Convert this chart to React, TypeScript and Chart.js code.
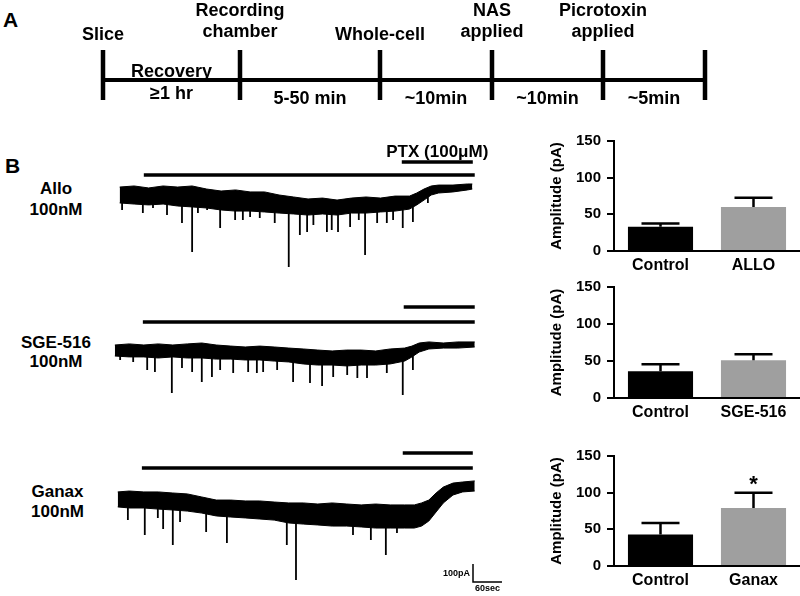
import React, { useEffect, useRef } from "react";
import { Chart, registerables } from "chart.js";

Chart.register(...registerables);

const FONT = "'Liberation Sans', Arial, Helvetica, sans-serif";
const PA_PER_PX = 5.54; // from scale bar: 100 pA
const SEC_PER_PX = 2.07; // from scale bar: 60 sec

// ---------------- Panel A: schematic timeline ----------------
const timelineEventLabels: string[][] = [
  ["Slice"],
  ["Recording", "chamber"],
  ["Whole-cell"],
  ["NAS", "applied"],
  ["Picrotoxin", "applied"],
  [],
];
const timelineEventPositions = [0, 1.37, 2.77, 3.89, 5.0, 6.02];
const timelineSegmentTop = ["Recovery", "", "", "", ""];
const timelineSegmentBottom = ["≥1 hr", "5-50 min", "~10min", "~10min", "~5min"];

// ---------------- Panel B: traces (time in s, current in pA) ----------------
const alloTime = [0, 30, 60, 90, 120, 150, 180, 210, 240, 270, 300, 330, 360, 390, 420, 450, 480, 510, 540, 570, 600, 615, 630, 645, 660, 690, 720, 730];
const alloUpper = [44, 50, 39, 50, 44, 50, 33, 22, 28, 17, 17, 0, -11, -22, -17, -28, -17, -11, -17, -6, -6, 11, 33, 50, 55, 55, 61, 61];
const alloLower = [-44, -50, -55, -50, -61, -66, -72, -83, -89, -89, -94, -100, -105, -111, -105, -111, -100, -100, -94, -89, -78, -55, -28, 0, 11, 17, 28, 33];
const alloSpikeTime = [5, 48, 69, 98, 129, 150, 162, 181, 208, 239, 255, 270, 290, 321, 350, 373, 388, 401, 429, 439, 452, 477, 495, 508, 533, 553, 566, 586, 607, 638];
const alloSpikePeak = [-83, -100, -72, -111, -155, -316, -100, -83, -183, -139, -139, -122, -127, -155, -399, -222, -205, -166, -205, -194, -205, -177, -139, -332, -155, -155, -139, -183, -150, -44];
const alloDrug = [50, 735];
const alloPtx = [584, 731];

const sgeTime = [-10, 20, 50, 80, 110, 140, 170, 200, 230, 260, 290, 320, 350, 380, 410, 440, 470, 500, 530, 560, 590, 605, 620, 640, 670, 700, 735];
const sgeUpper = [0, 6, 0, 6, 0, 6, 11, 0, -6, -11, -6, -11, -17, -22, -28, -33, -28, -28, -33, -22, -17, -6, 11, 17, 11, 17, 17];
const sgeLower = [-61, -66, -66, -72, -66, -72, -72, -78, -78, -83, -83, -89, -94, -105, -111, -111, -116, -111, -111, -105, -89, -66, -39, -22, -17, -17, -11];
const sgeSpikeTime = [1, 28, 57, 73, 108, 129, 150, 170, 191, 208, 235, 266, 284, 297, 326, 359, 394, 419, 442, 471, 492, 512, 553, 586, 607];
const sgeSpikePeak = [-83, -94, -139, -150, -266, -127, -150, -205, -177, -139, -155, -150, -155, -150, -139, -205, -211, -227, -177, -166, -183, -183, -155, -277, -139];
const sgeDrug = [48, 735];
const sgePtx = [588, 735];

const ganaxTime = [-4, 20, 50, 80, 110, 140, 170, 200, 230, 260, 290, 320, 350, 380, 410, 440, 470, 500, 530, 560, 590, 610, 625, 640, 655, 670, 690, 710, 735];
const ganaxUpper = [17, 22, 17, 17, 11, 6, -11, -28, -28, -33, -33, -39, -44, -44, -50, -44, -50, -55, -50, -55, -55, -55, -44, -28, 11, 44, 66, 72, 78];
const ganaxLower = [-66, -72, -72, -78, -83, -89, -100, -116, -122, -127, -133, -139, -155, -161, -166, -172, -172, -177, -183, -183, -183, -183, -172, -144, -94, -44, 0, 17, 22];
const ganaxSpikeTime = [17, 52, 79, 90, 110, 125, 179, 222, 346, 365, 483, 520, 551, 574];
const ganaxSpikePeak = [-139, -222, -127, -188, -277, -150, -205, -266, -277, -471, -222, -249, -332, -211];
const ganaxDrug = [46, 731];
const ganaxPtx = [586, 731];

const scaleBarPa = 100;
const scaleBarSec = 60;

// ---------------- Panel B: bar charts ----------------
const alloLabels = ["Control", "ALLO"];
const alloMeans = [33, 60];
const alloSem = [4.5, 12.5];

const sgeLabels = ["Control", "SGE-516"];
const sgeMeans = [36, 51];
const sgeSem = [9.5, 8];

const ganaxLabels = ["Control", "Ganax"];
const ganaxMeans = [43, 79];
const ganaxSem = [15.5, 21];
const ganaxMarks = ["", "*"];

const yTicks = [0, 50, 100, 150];

Chart.defaults.font.family = FONT;
Chart.defaults.font.weight = "bold" as any;
Chart.defaults.color = "#000";

function Label({ x, y, size, text, align = "center" }: { x: number; y: number; size: number; text: string; align?: string }) {
  const style: React.CSSProperties = {
    position: "absolute",
    top: y - size * 0.488,
    fontSize: size,
    lineHeight: `${size}px`,
    fontWeight: "bold",
    fontFamily: FONT,
    whiteSpace: "nowrap",
    color: "#000",
  };
  if (align === "center") {
    style.left = x - 100;
    style.width = 200;
    style.textAlign = "center";
  } else {
    style.left = x;
  }
  return <div style={style}>{text}</div>;
}

function Timeline() {
  const ref = useRef<HTMLCanvasElement>(null);
  useEffect(() => {
    const end = timelineEventPositions[timelineEventPositions.length - 1];
    const tickPts: any[] = [];
    timelineEventPositions.forEach((p) => {
      tickPts.push({ x: p, y: -20 }, { x: p, y: 30 }, { x: p, y: null });
    });
    const textPlugin = {
      id: "tlText",
      afterDraw(chart: any) {
        const { ctx } = chart;
        const xs = chart.scales.x;
        const fs = 18;
        ctx.save();
        ctx.font = `bold ${fs}px ${FONT}`;
        ctx.fillStyle = "#000";
        ctx.textAlign = "center";
        ctx.textBaseline = "alphabetic";
        const cap = fs * 0.358;
        timelineEventLabels.forEach((lines, i) => {
          const px = xs.getPixelForValue(timelineEventPositions[i]);
          lines.forEach((s, j) => {
            const cy = lines.length === 1 ? 34 : 9.5 + j * 21.5;
            ctx.fillText(s, px, cy + cap);
          });
        });
        timelineSegmentBottom.forEach((s, i) => {
          const px = (xs.getPixelForValue(timelineEventPositions[i]) + xs.getPixelForValue(timelineEventPositions[i + 1])) / 2;
          const topText = timelineSegmentTop[i];
          if (topText) ctx.fillText(topText, px, 71 + cap);
          ctx.fillText(s, px, (topText ? 93 : 98) + cap);
        });
        ctx.restore();
      },
    };
    const chart = new Chart(ref.current!, {
      type: "line",
      data: {
        datasets: [
          { data: [{ x: 0, y: 0 }, { x: end, y: 0 }], borderColor: "#000", borderWidth: 4, pointRadius: 0, clip: false } as any,
          { data: tickPts, borderColor: "#000", borderWidth: 4.5, pointRadius: 0, spanGaps: false, clip: false } as any,
        ],
      },
      options: {
        animation: false,
        responsive: true,
        maintainAspectRatio: false,
        events: [],
        layout: { padding: { left: 103, right: 95, top: 0, bottom: 0 } },
        plugins: { legend: { display: false }, tooltip: { enabled: false } },
        scales: {
          x: { type: "linear", display: false, min: 0, max: end },
          y: { display: false, min: -30, max: 80 },
        },
      },
      plugins: [textPlugin],
    });
    return () => chart.destroy();
  }, []);
  return (
    <div style={{ position: "absolute", left: 0, top: 0, width: 800, height: 110 }}>
      <canvas ref={ref} />
    </div>
  );
}

type TraceProps = {
  top: number;
  height: number;
  time: number[];
  upper: number[];
  lower: number[];
  spikeTime: number[];
  spikePeak: number[];
  drug: number[];
  ptx: number[];
  drugOffset: number;
  ptxOffset: number;
  ptxLabel?: string;
  scaleCorner?: [number, number];
};

function Trace(props: TraceProps) {
  const ref = useRef<HTMLCanvasElement>(null);
  useEffect(() => {
    const { height, time, upper, lower, spikeTime, spikePeak, drug, ptx, drugOffset, ptxOffset, ptxLabel, scaleCorner } = props;
    const zeroOffset = 55;
    const yMax = zeroOffset * PA_PER_PX;
    const yMin = yMax - height * PA_PER_PX;
    const xMin = -20;
    const xMax = xMin + 400 * SEC_PER_PX;
    const levelAt = (offsetPx: number) => yMax - offsetPx * PA_PER_PX;

    const upperPts = time.map((t, i) => ({ x: t, y: upper[i] }));
    const lowerPts = time.map((t, i) => ({ x: t, y: lower[i] }));
    const spikePts: any[] = [];
    spikeTime.forEach((t, i) => {
      let k = 0;
      time.forEach((tt, j) => {
        if (Math.abs(tt - t) < Math.abs(time[k] - t)) k = j;
      });
      const onset = (upper[k] + lower[k]) / 2;
      spikePts.push({ x: t, y: onset }, { x: t, y: spikePeak[i] }, { x: t, y: null });
    });
    const drugLevel = levelAt(drugOffset);
    const ptxLevel = levelAt(ptxOffset);

    const datasets: any[] = [
      { data: upperPts, borderColor: "#000", borderWidth: 1, pointRadius: 0, fill: "+1", backgroundColor: "#000" },
      { data: lowerPts, borderColor: "#000", borderWidth: 1, pointRadius: 0, fill: false },
      { data: spikePts, borderColor: "#000", borderWidth: 1.8, pointRadius: 0, spanGaps: false, fill: false },
      { data: [{ x: drug[0], y: drugLevel }, { x: drug[1], y: drugLevel }], borderColor: "#000", borderWidth: 3.5, pointRadius: 0, fill: false },
      { data: [{ x: ptx[0], y: ptxLevel }, { x: ptx[1], y: ptxLevel }], borderColor: "#000", borderWidth: 3.5, pointRadius: 0, fill: false },
    ];
    let sb: { x: number; y: number } | null = null;
    if (scaleCorner) {
      sb = { x: xMin + scaleCorner[0] * SEC_PER_PX, y: levelAt(scaleCorner[1]) };
      datasets.push({
        data: [
          { x: sb.x, y: sb.y + scaleBarPa },
          { x: sb.x, y: sb.y },
          { x: sb.x + scaleBarSec, y: sb.y },
        ],
        borderColor: "#000",
        borderWidth: 1.5,
        pointRadius: 0,
        fill: false,
      });
    }

    const textPlugin = {
      id: "traceText",
      afterDraw(chart: any) {
        const { ctx } = chart;
        const xs = chart.scales.x;
        const ys = chart.scales.y;
        ctx.save();
        ctx.fillStyle = "#000";
        ctx.textBaseline = "alphabetic";
        if (ptxLabel) {
          ctx.font = `bold 17px ${FONT}`;
          ctx.textAlign = "center";
          const cx = (xs.getPixelForValue(ptx[0]) + xs.getPixelForValue(ptx[1])) / 2;
          const cy = ys.getPixelForValue(ptxLevel) - 11;
          ctx.fillText(ptxLabel, cx, cy + 17 * 0.358);
        }
        if (sb) {
          ctx.font = `bold 9px ${FONT}`;
          const px = xs.getPixelForValue(sb.x);
          const py = ys.getPixelForValue(sb.y);
          const pyTop = ys.getPixelForValue(sb.y + scaleBarPa);
          const px2 = xs.getPixelForValue(sb.x + scaleBarSec);
          ctx.textAlign = "right";
          ctx.fillText(`${scaleBarPa}pA`, px - 3, (py + pyTop) / 2 + 9 * 0.358);
          ctx.textAlign = "center";
          ctx.fillText(`${scaleBarSec}sec`, (px + px2) / 2, py + 6 + 9 * 0.358);
        }
        ctx.restore();
      },
    };

    const chart = new Chart(ref.current!, {
      type: "line",
      data: { datasets },
      options: {
        animation: false,
        responsive: true,
        maintainAspectRatio: false,
        events: [],
        layout: { padding: 0 },
        plugins: { legend: { display: false }, tooltip: { enabled: false } },
        scales: {
          x: { type: "linear", display: false, min: xMin, max: xMax },
          y: { display: false, min: yMin, max: yMax },
        },
      },
      plugins: [textPlugin],
    });
    return () => chart.destroy();
  }, []);
  return (
    <div style={{ position: "absolute", left: 110, top: props.top, width: 400, height: props.height }}>
      <canvas ref={ref} />
    </div>
  );
}

function AmpChart({ top, height, labels, means, sems, marks }: { top: number; height: number; labels: string[]; means: number[]; sems: number[]; marks?: string[] }) {
  const ref = useRef<HTMLCanvasElement>(null);
  useEffect(() => {
    const errPlugin = {
      id: "errBars",
      afterDatasetsDraw(chart: any) {
        const { ctx } = chart;
        const ys = chart.scales.y;
        const meta = chart.getDatasetMeta(0);
        ctx.save();
        ctx.strokeStyle = "#000";
        ctx.lineWidth = 2.5;
        meta.data.forEach((bar: any, i: number) => {
          const yTop = ys.getPixelForValue(means[i] + sems[i]);
          ctx.beginPath();
          ctx.moveTo(bar.x, bar.y);
          ctx.lineTo(bar.x, yTop);
          ctx.moveTo(bar.x - 19, yTop);
          ctx.lineTo(bar.x + 19, yTop);
          ctx.stroke();
          if (marks && marks[i]) {
            ctx.font = `bold 22px ${FONT}`;
            ctx.textAlign = "center";
            ctx.textBaseline = "alphabetic";
            ctx.fillStyle = "#000";
            ctx.fillText(marks[i], bar.x, yTop - 1.5);
          }
        });
        ctx.restore();
      },
    };
    const chart = new Chart(ref.current!, {
      type: "bar",
      data: {
        labels,
        datasets: [
          {
            data: means,
            backgroundColor: ["#000000", "#9f9f9f"],
            borderWidth: 0,
            barPercentage: 0.7,
            categoryPercentage: 1,
          },
        ],
      },
      options: {
        animation: false,
        responsive: true,
        maintainAspectRatio: false,
        events: [],
        layout: { padding: { top: 12, left: 0, right: 0, bottom: 0 } },
        plugins: { legend: { display: false }, tooltip: { enabled: false } },
        scales: {
          y: {
            min: 0,
            max: 150,
            afterBuildTicks: (s: any) => {
              s.ticks = yTicks.map((v) => ({ value: v }));
            },
            ticks: { font: { size: 15, weight: "bold" as any }, color: "#000", padding: 6 },
            grid: { drawOnChartArea: false, drawTicks: true, tickLength: 7, color: "#000", lineWidth: 2 },
            border: { display: true, color: "#000", width: 2 },
            title: { display: true, text: "Amplitude (pA)", font: { size: 15, weight: "bold" as any }, color: "#000", padding: 4 },
            afterFit: (s: any) => {
              s.width = 70;
            },
          },
          x: {
            grid: { display: false },
            border: { display: true, color: "#000", width: 2 },
            ticks: { font: { size: 16, weight: "bold" as any }, color: "#000", padding: -3 },
            afterFit: (s: any) => {
              s.height = 26;
            },
          },
        },
      },
      plugins: [errPlugin],
    });
    return () => chart.destroy();
  }, []);
  return (
    <div style={{ position: "absolute", left: 544, top, width: 256, height }}>
      <canvas ref={ref} />
    </div>
  );
}

export default function App() {
  return (
    <div
      style={{
        position: "absolute",
        left: 0,
        top: 0,
        width: 800,
        height: 596,
        background: "#fff",
        overflow: "hidden",
        fontFamily: FONT,
      }}
    >
      <Label x={3} y={19.5} size={21} text="A" align="left" />
      <Label x={5} y={165.5} size={21} text="B" align="left" />
      <Timeline />

      <Label x={56} y={188.5} size={17} text="Allo" />
      <Label x={56} y={209.5} size={17} text="100nM" />
      <Label x={56} y={342} size={17} text="SGE-516" />
      <Label x={56} y={361} size={17} text="100nM" />
      <Label x={57.5} y={491} size={17} text="Ganax" />
      <Label x={57.5} y={511.5} size={17} text="100nM" />

      <Trace
        top={140}
        height={130}
        time={alloTime}
        upper={alloUpper}
        lower={alloLower}
        spikeTime={alloSpikeTime}
        spikePeak={alloSpikePeak}
        drug={alloDrug}
        ptx={alloPtx}
        drugOffset={35}
        ptxOffset={22}
        ptxLabel="PTX (100μM)"
      />
      <Trace
        top={290}
        height={130}
        time={sgeTime}
        upper={sgeUpper}
        lower={sgeLower}
        spikeTime={sgeSpikeTime}
        spikePeak={sgeSpikePeak}
        drug={sgeDrug}
        ptx={sgePtx}
        drugOffset={32}
        ptxOffset={17}
      />
      <Trace
        top={440}
        height={156}
        time={ganaxTime}
        upper={ganaxUpper}
        lower={ganaxLower}
        spikeTime={ganaxSpikeTime}
        spikePeak={ganaxSpikePeak}
        drug={ganaxDrug}
        ptx={ganaxPtx}
        drugOffset={28}
        ptxOffset={13}
        scaleCorner={[363, 142]}
      />

      <AmpChart top={126} height={151} labels={alloLabels} means={alloMeans} sems={alloSem} />
      <AmpChart top={272} height={152} labels={sgeLabels} means={sgeMeans} sems={sgeSem} />
      <AmpChart top={441} height={151} labels={ganaxLabels} means={ganaxMeans} sems={ganaxSem} marks={ganaxMarks} />
    </div>
  );
}
